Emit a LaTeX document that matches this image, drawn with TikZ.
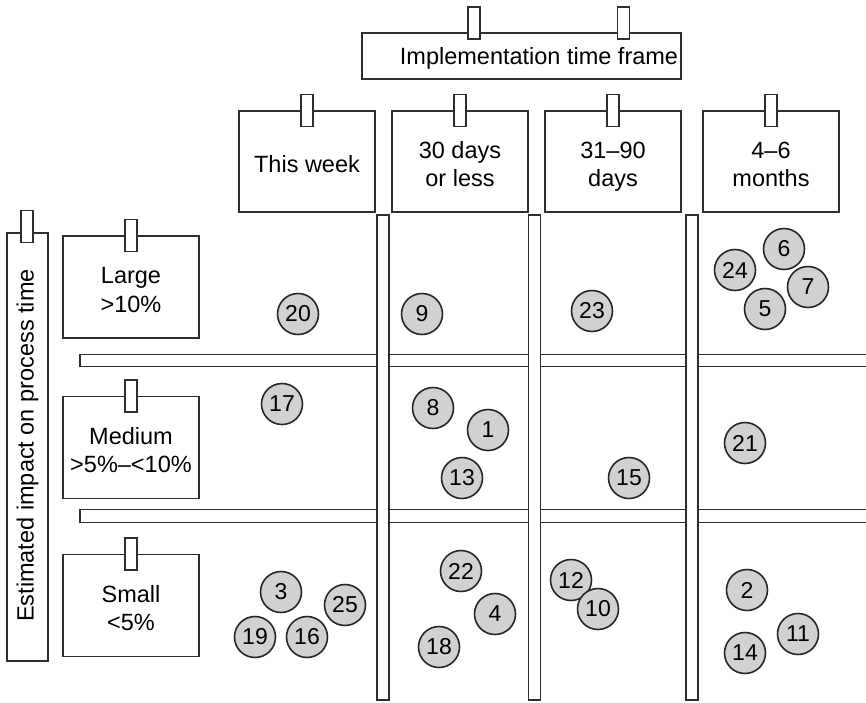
\documentclass[tikz,border=0pt]{standalone}
\usepackage{fontspec}
\setmainfont{Liberation Sans}
\begin{document}
\begin{tikzpicture}[x=1pt,y=-1pt,
  ink/.style={draw=black!82, line width=1.25pt},
  board/.style={ink, fill=white, inner sep=0pt},
  colbox/.style={board, minimum width=136pt, minimum height=101pt},
  rowbox/.style={board, minimum width=136pt, minimum height=102pt},
  lbl/.style={inner sep=0pt, align=center, yshift=-5.5pt, text=black,
    font=\fontsize{23.5}{28.5}\selectfont},
  clip tab/.style={ink, fill=white, inner sep=0pt, minimum width=12pt, minimum height=32pt},
  vbar/.style={ink, fill=white, inner sep=0pt, minimum width=12pt, minimum height=485pt},
  hbar/.style={ink, fill=white, inner sep=0pt, minimum width=790pt, minimum height=12.5pt},
  item/.style={circle, draw=black!85, line width=1.6pt, fill=black!18,
    minimum size=41pt, inner sep=0pt, text=black, font=\fontsize{23}{27}\selectfont}]
\useasboundingbox (0,0) rectangle (866,702);
\clip (0,0) rectangle (866,702);

% horizontal dividers between the impact rows
\node[hbar] (h1) at (475,360.5) {};
\node[hbar] (h2) at (475,516) {};

% vertical dividers between the time columns
\node[vbar] (v1) at (383,457.5) {};
\node[vbar] (v2) at (534.5,457.5) {};
\node[vbar] (v3) at (692,457.5) {};

% column heading
\node[board, minimum width=319pt, minimum height=46pt] (frame) at (521.5,56) {};
\node[lbl, yshift=3pt] (framelbl) at (539,56) {Implementation time frame\strut};
\node[clip tab] (frameA) at (474,23) {};
\node[clip tab] (frameB) at (623.5,23) {};

% time columns
\node[colbox] (week) at (307,161.5) {};
\node[colbox] (days30) at (460,161.5) {};
\node[colbox] (days90) at (613,161.5) {};
\node[colbox] (months) at (771,161.5) {};
\node[lbl] (weeklbl) at (week) {This week\strut};
\node[lbl] (days30lbl) at (days30) {30 days\strut\\or less\strut};
\node[lbl] (days90lbl) at (days90) {31–90\strut\\days\strut};
\node[lbl] (monthslbl) at (months) {4–6\strut\\months\strut};
\node[clip tab] at (week.north) (tw) {};
\node[clip tab] at (days30.north) (td) {};
\node[clip tab] at (days90.north) (t9) {};
\node[clip tab] at (months.north) (tm) {};

% row heading
\node[board, minimum width=41pt, minimum height=428pt] (impact) at (27.5,447) {};
\node[lbl, yshift=5.5pt, rotate=90] (impactlbl) at (27.5,445.5) {Estimated impact on process time};
\node[clip tab] (impacttab) at (27,226.5) {};

% impact rows
\node[rowbox] (large) at (131,287) {};
\node[rowbox] (medium) at (131,447.5) {};
\node[rowbox] (small) at (131,605.5) {};
\node[lbl] (largelbl) at (large) {Large\strut\\>10\%\strut};
\node[lbl] (mediumlbl) at (medium) {Medium\strut\\>5\%–<10\%\strut};
\node[lbl] (smalllbl) at (small) {Small\strut\\<5\%\strut};
\node[clip tab] at (large.north) (tl) {};
\node[clip tab] at (medium.north) (tmd) {};
\node[clip tab] at (small.north) (ts) {};

% numbered items
\node[item] (n20) at (298,314) {20};
\node[item] (n9)  at (422,314) {9};
\node[item] (n23) at (592,311) {23};
\node[item] (n6)  at (784,249) {6};
\node[item] (n24) at (735,270) {24};
\node[item] (n7)  at (808,287) {7};
\node[item] (n5)  at (765,309) {5};

\node[item] (n17) at (282,404) {17};
\node[item] (n8)  at (433,408) {8};
\node[item] (n1)  at (488,430) {1};
\node[item] (n13) at (462,478) {13};
\node[item] (n15) at (629,478) {15};
\node[item] (n21) at (745,443) {21};

\node[item] (n3)  at (281,592) {3};
\node[item] (n25) at (345,605) {25};
\node[item] (n19) at (255,637) {19};
\node[item] (n16) at (307,637) {16};
\node[item] (n22) at (461,571) {22};
\node[item] (n4)  at (495,614) {4};
\node[item] (n18) at (439,647) {18};
\node[item] (n12) at (571,580) {12};
\node[item] (n10) at (598,609) {10};
\node[item] (n2)  at (747,590) {2};
\node[item] (n11) at (798,634) {11};
\node[item] (n14) at (745,653) {14};
\end{tikzpicture}
\end{document}
